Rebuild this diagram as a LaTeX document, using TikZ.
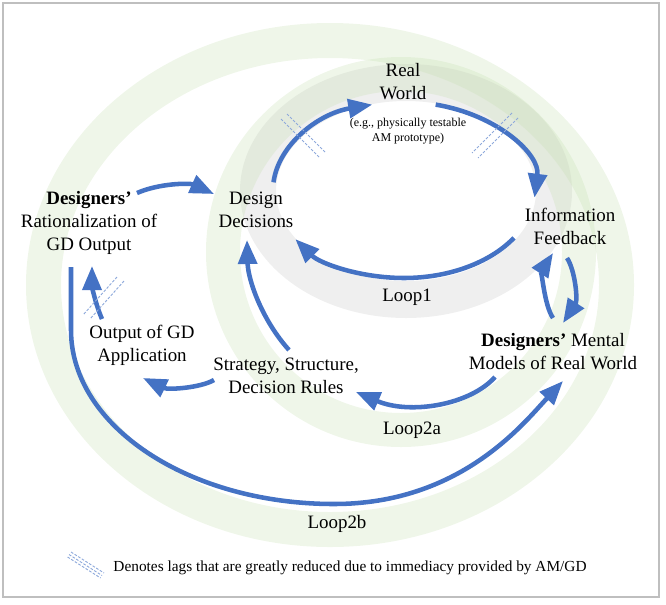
\documentclass[tikz,border=0pt]{standalone}
\usepackage{fontspec}
\setmainfont{Liberation Serif}
\usetikzlibrary{arrows.meta}
\definecolor{arrowblue}{HTML}{4472C4}
\definecolor{lagblue}{HTML}{8EA9DB}
\definecolor{ringgray}{HTML}{EFEFEF}
\definecolor{ringgreen}{HTML}{C5DFB0}
\definecolor{framegray}{HTML}{BFBFBF}
\begin{document}
\begin{tikzpicture}[x=0.75pt,y=-0.75pt,
  lbl/.style={font=\fontsize{14.2}{17.3}\selectfont, align=center, inner sep=0pt},
  small/.style={font=\fontsize{9}{11.3}\selectfont, align=center, inner sep=0pt},
  flow/.style={draw=arrowblue, line width=3.4pt, -{Triangle[length=18pt,width=14pt]}},
  lag/.style={draw=lagblue, line width=0.7pt, dash pattern=on 2pt off 1.2pt},
  ring/.style={fill=ringgreen, fill opacity=0.28, even odd rule}]
\useasboundingbox (0,0) rectangle (666,604);
% background rings
\fill[ringgray, even odd rule] (406,191) ellipse [x radius=124.5pt, y radius=95.25pt]
  (406,191) ellipse [x radius=97.5pt, y radius=67.5pt];
\fill[ring] (401,252) circle [radius=146.25pt] (401,252) circle [radius=120.75pt];
\fill[ring] (330,285) ellipse [x radius=228pt, y radius=196.5pt]
  (330,285) ellipse [x radius=201.75pt, y radius=170.25pt];
% frame
\draw[framegray, line width=0.9pt] (3,3) rectangle (659,597);
% nodes
\node[lbl] (rw) at (403,82) {Real\\World};
\node[small] (rwsub) at (408,131) {(e.g., physically testable\\AM prototype)};
\node[lbl] (dd) at (256,210) {Design\\Decisions};
\node[lbl] (rat) at (89,223) {\textbf{Designers’}\\Rationalization of\\GD Output};
\node[lbl] (inf) at (570,226) {Information\\Feedback};
\node[lbl] (loop1) at (407,297) {Loop1};
\node[lbl] (mm) at (553,352) {\textbf{Designers’} Mental\\Models of Real World};
\node[lbl] (out) at (142,345) {Output of GD\\Application};
\node[lbl] (ssd) at (286,376) {Strategy, Structure,\\Decision Rules};
\node[lbl] (loop2a) at (412,430) {Loop2a};
\node[lbl] (loop2b) at (337,524) {Loop2b};
\node[font=\fontsize{11.5}{14}\selectfont, inner sep=0pt] (legend) at (350,568)
  {Denotes lags that are greatly reduced due to immediacy provided by AM/GD};
% connector ends
\coordinate (ddA) at (273.5,182.3);
\coordinate (rwA) at (372.3,104.6);
\coordinate (rwB) at (435.7,104.6);
\coordinate (infB) at (534.5,197.7);
\coordinate (infC) at (513.9,237.9);
\coordinate (ddC) at (295.4,239.2);
\coordinate (ratD) at (137,193);
\coordinate (ddD) at (214,194);
\coordinate (outE) at (102,319);
\coordinate (ratE) at (92,266);
\coordinate (ssdF) at (289,350);
\coordinate (ddF) at (247,240);
\coordinate (ssdG) at (214,380);
\coordinate (outG) at (143,378);
\coordinate (mmH) at (495,377);
\coordinate (ssdH) at (356,392);
\coordinate (infI) at (567,258);
\coordinate (mmI) at (563,323);
\coordinate (mmJ) at (553,318);
\coordinate (infJ) at (553,253);
\coordinate (ratK) at (71,267);
\coordinate (mmK) at (563,381);
% connectors
\draw[flow] (ddA) .. controls (278.4,144.9) and (318.0,113.7) .. (rwA);
\draw[flow] (rwB) .. controls (498.2,115.1) and (540.1,154.6) .. (infB);
\draw[flow] (infC) .. controls (489.8,262.9) and (448.4,278) .. (404,278)
  .. controls (360.5,278) and (319.8,263.5) .. (ddC);
\draw[flow] (ratD) .. controls (160,183) and (190,183) .. (ddD);
\draw[flow] (outE) .. controls (95,303) and (92,285) .. (ratE);
\draw[flow] (ssdF) .. controls (262,320) and (248,280) .. (ddF);
\draw[flow] (ssdG) .. controls (200,388) and (168,390) .. (outG);
\draw[flow] (mmH) .. controls (470,405) and (410,415) .. (ssdH);
\draw[flow] (infI) .. controls (575,270) and (578,300) .. (mmI);
\draw[flow] (mmJ) .. controls (544,305) and (542,270) .. (infJ);
\draw[flow] (ratK) -- (71,330) .. controls (71,426) and (188.7,504) .. (334,504)
  .. controls (460,504) and (523,424) .. (mmK);
% lag marks
\draw[lag] (281,119) -- (320,158);
\draw[lag] (287,114) -- (326,153);
\draw[lag] (512,113) -- (472,153);
\draw[lag] (518,118) -- (478,158);
\draw[lag] (117,277) -- (83,315);
\draw[lag] (124,281) -- (90,319);
\draw[lag] (71,552) -- (104,573);
\draw[lag] (69,554.5) -- (102,575.5);
\draw[lag] (67.6,557) -- (100.6,578);
\end{tikzpicture}
\end{document}
